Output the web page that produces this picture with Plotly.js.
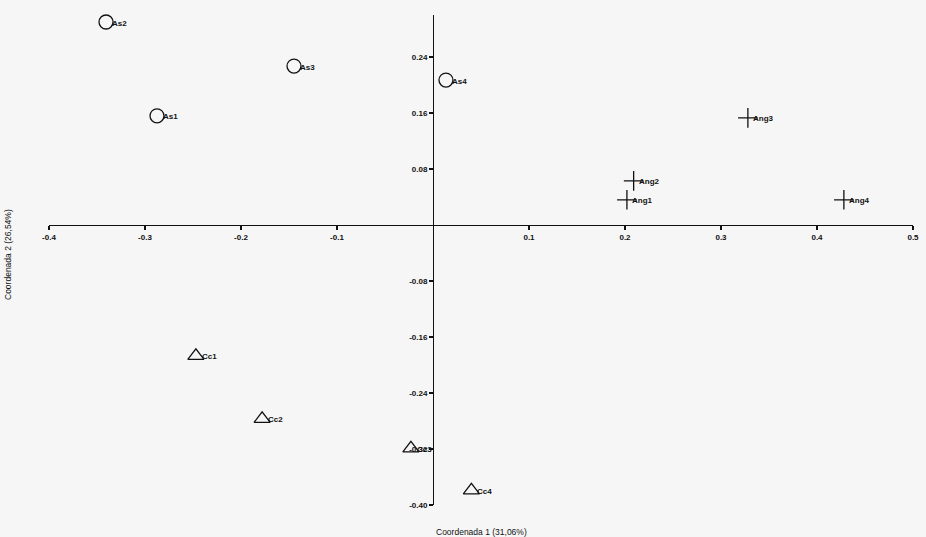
<!DOCTYPE html>
<html>
<head>
<meta charset="utf-8">
<script src="https://cdn.plot.ly/plotly-3.0.1.min.js"></script>
<style>html,body{margin:0;padding:0;background:#f6f6f6;}#chart{width:926px;height:537px;}</style>
</head>
<body>
<div id="chart"></div>
<script>
// Group "As" (circles)
const asLabels = ["As1", "As2", "As3", "As4"];
const asX = [-0.2875, -0.3406, -0.1448, 0.0135];
const asY = [0.156, 0.290, 0.227, 0.207];
// Group "Ang" (crosses)
const angLabels = ["Ang1", "Ang2", "Ang3", "Ang4"];
const angX = [0.202, 0.209, 0.328, 0.428];
const angY = [0.036, 0.063, 0.153, 0.036];
// Group "Cc" (triangles)
const ccLabels = ["Cc1", "Cc2", "Cc3", "Cc4"];
const ccX = [-0.247, -0.178, -0.023, 0.040];
const ccY = [-0.187, -0.277, -0.319, -0.379];
// Axis ticks
const xTickVals = [-0.4, -0.3, -0.2, -0.1, 0.1, 0.2, 0.3, 0.4, 0.5];
const xTickText = ["-0.4", "-0.3", "-0.2", "-0.1", "0.1", "0.2", "0.3", "0.4", "0.5"];
const yTickVals = [0.24, 0.16, 0.08, -0.08, -0.16, -0.24, -0.32, -0.40];
const yTickText = ["0.24", "0.16", "0.08", "-0.08", "-0.16", "-0.24", "-0.32", "-0.40"];

const xRange = [-0.4, 0.5];
const yRange = [-0.40, 0.30];

const FONT = "Liberation Sans";
const labelFont = {family: FONT, size: 8, color: "#111", weight: "bold"};
function series(x, y, t, symbol, size) {
  return {
    type: "scatter", mode: "markers", x: x, y: y, text: t, cliponaxis: false,
    marker: {symbol: symbol, size: size, color: "#111", line: {color: "#111", width: 1.3}},
    hoverinfo: "x+y+text", showlegend: false
  };
}

const data = [
  series(asX, asY, asLabels, "circle-open", 14),
  series(angX, angY, angLabels, "cross-thin-open", 14),
  series(ccX, ccY, ccLabels, "triangle-up-open", 14)
];

function labels(x, y, t, dx) {
  return t.map((s, i) => ({
    text: s, x: x[i], y: y[i], xref: "x", yref: "y", xanchor: "left", yanchor: "middle",
    xshift: dx, yshift: -1, showarrow: false, font: labelFont
  }));
}

const tickFont = {family: FONT, size: 8, color: "#111", weight: "bold"};
const layout = {
  width: 926, height: 537,
  margin: {l: 49, r: 13, t: 15, b: 32},
  paper_bgcolor: "#f6f6f6", plot_bgcolor: "#f6f6f6",
  showlegend: false,
  xaxis: {
    range: xRange, anchor: "free",
    position: (0 - yRange[0]) / (yRange[1] - yRange[0]),
    showgrid: false, zeroline: false, showline: true, linecolor: "#111", linewidth: 1.3,
    ticks: "outside", ticklen: 4, tickcolor: "#111", tickwidth: 1.3,
    tickmode: "array", tickvals: xTickVals, ticktext: xTickText, tickfont: tickFont
  },
  yaxis: {
    range: yRange, anchor: "free",
    position: (0 - xRange[0]) / (xRange[1] - xRange[0]),
    showgrid: false, zeroline: false, showline: true, linecolor: "#111", linewidth: 1.3,
    ticks: "outside", ticklen: 4, tickcolor: "#111", tickwidth: 1.3,
    tickmode: "array", tickvals: yTickVals, ticktext: yTickText, tickfont: tickFont
  },
  annotations: [].concat(
    labels(asX, asY, asLabels, 4),
    labels(angX, angY, angLabels, 3),
    labels(ccX, ccY, ccLabels, 4),
    [
      {text: "Coordenada 1 (31,06%)", xref: "paper", yref: "paper", x: 0.5, y: 0, yshift: -27,
       xanchor: "center", yanchor: "middle", showarrow: false, font: {family: FONT, size: 8.5, color: "#111"}},
      {text: "Coordenada 2 (26,54%)", xref: "paper", yref: "paper", x: 0, xshift: -41, y: 0.5, yshift: 5,
       xanchor: "center", yanchor: "middle", textangle: -90, showarrow: false, font: {family: FONT, size: 8.5, color: "#111"}}
    ]
  )
};

Plotly.newPlot("chart", data, layout, {displayModeBar: false, staticPlot: true});
</script>
</body>
</html>
